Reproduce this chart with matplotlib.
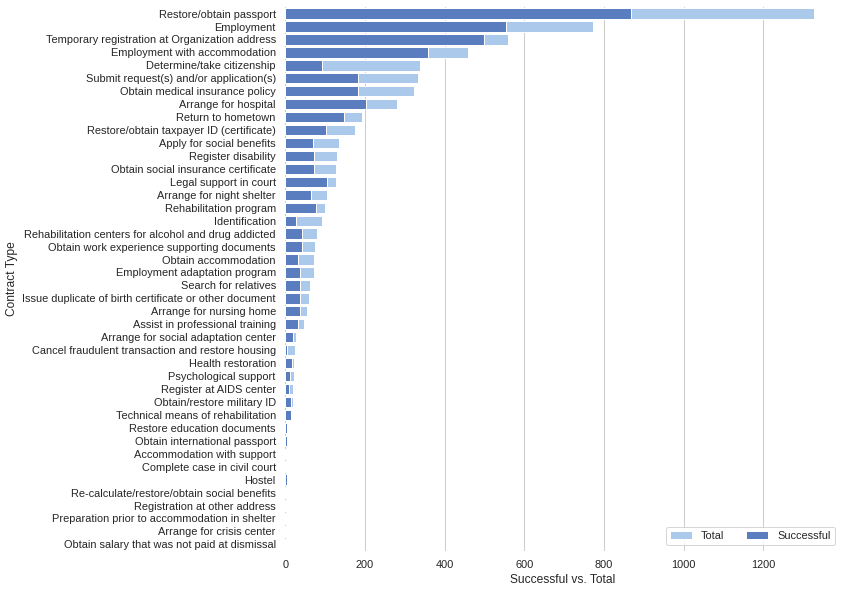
import matplotlib
matplotlib.use("Agg")
import matplotlib.pyplot as plt
import seaborn as sns
import pandas as pd

contract_types = [
    "Restore/obtain passport",
    "Employment",
    "Temporary registration at Organization address",
    "Employment with accommodation",
    "Determine/take citizenship",
    "Submit request(s) and/or application(s)",
    "Obtain medical insurance policy",
    "Arrange for hospital",
    "Return to hometown",
    "Restore/obtain taxpayer ID (certificate)",
    "Apply for social benefits",
    "Register disability",
    "Obtain social insurance certificate",
    "Legal support in court",
    "Arrange for night shelter",
    "Rehabilitation program",
    "Identification",
    "Rehabilitation centers for alcohol and drug addicted",
    "Obtain work experience supporting documents",
    "Obtain accommodation",
    "Employment adaptation program",
    "Search for relatives",
    "Issue duplicate of birth certificate or other document",
    "Arrange for nursing home",
    "Assist in professional training",
    "Arrange for social adaptation center",
    "Cancel fraudulent transaction and restore housing",
    "Health restoration",
    "Psychological support",
    "Register at AIDS center",
    "Obtain/restore military ID",
    "Technical means of rehabilitation",
    "Restore education documents",
    "Obtain international passport",
    "Accommodation with support",
    "Complete case in civil court",
    "Hostel",
    "Re-calculate/restore/obtain social benefits",
    "Registration at other address",
    "Preparation prior to accommodation in shelter",
    "Arrange for crisis center",
    "Obtain salary that was not paid at dismissal",
]

total = [1327, 773, 558, 458, 339, 334, 324, 281, 192, 174,
         136, 131, 127, 127, 104, 100, 93, 80, 75, 73,
         73, 63, 60, 55, 48, 28, 25, 23, 23, 20,
         19, 16, 5, 5, 3, 3, 5, 3, 3, 1,
         1, 1]

successful = [868, 555, 499, 357, 93, 182, 182, 203, 147, 101,
              70, 73, 73, 104, 64, 76, 26, 43, 43, 33,
              36, 36, 36, 38, 33, 20, 5, 16, 13, 10,
              15, 15, 5, 5, 2, 2, 5, 2, 2, 0,
              0, 0]

df = pd.DataFrame({"type": contract_types, "total": total, "successful": successful})

sns.set_theme(style="whitegrid")
plt.rcParams['font.family'] = ['Liberation Sans', 'DejaVu Sans']

f, ax = plt.subplots(figsize=(849 / 72, 591 / 72))
f.subplots_adjust(left=0.336, right=0.99, top=0.988, bottom=0.068)

sns.set_color_codes("pastel")
sns.barplot(x="total", y="type", data=df, label="Total", color="b", ax=ax)

sns.set_color_codes("muted")
sns.barplot(x="successful", y="type", data=df, label="Successful", color="b", ax=ax)

ax.legend(ncol=2, loc="lower right", frameon=True)
ax.set(ylabel="Contract Type", xlabel="Successful vs. Total")
sns.despine(left=True, bottom=True)

plt.savefig("out.png", dpi=72)
